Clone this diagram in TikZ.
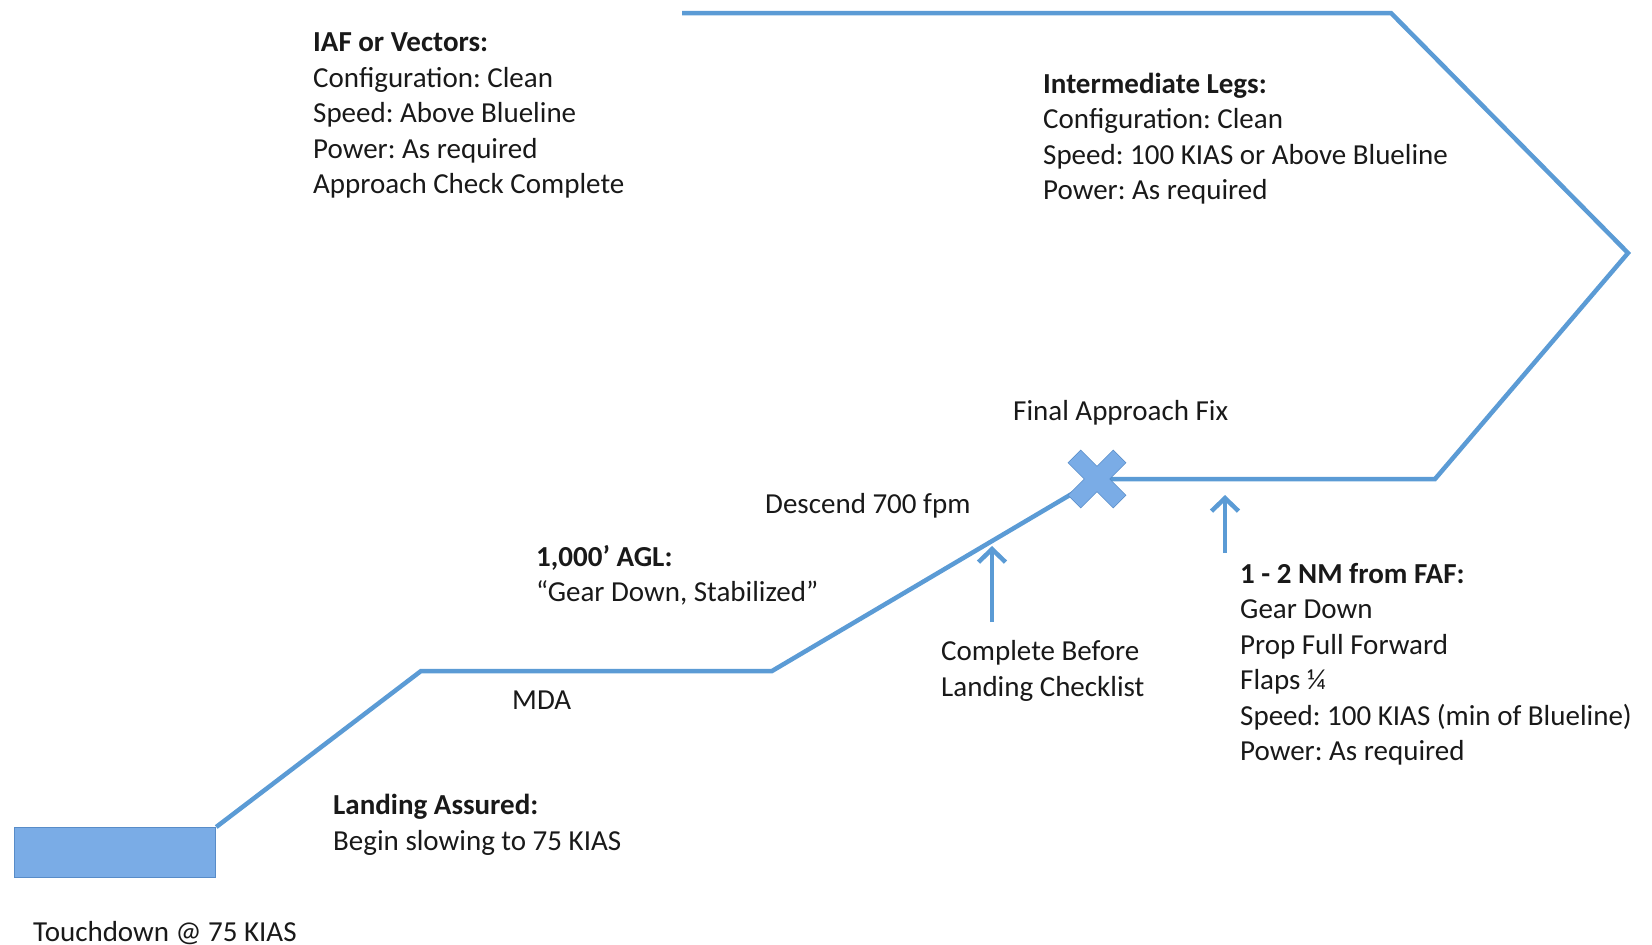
\documentclass[tikz,border=0pt]{standalone}
\usepackage{fontspec}
\setmainfont{Carlito}
\usetikzlibrary{arrows.meta}
\definecolor{route}{RGB}{91,155,213}
\definecolor{padfill}{RGB}{122,172,230}
\definecolor{padedge}{RGB}{88,140,200}
\definecolor{ink}{RGB}{25,25,25}
\frenchspacing
\begin{document}
\begin{tikzpicture}[x=1pt,y=-1pt,
  route/.style={draw=route, line width=4.5pt, line join=miter},
  % multi-line notes are placed by the baseline of their last line
  note/.style={anchor=base west, inner sep=0pt, align=left,
    font=\fontsize{29}{35.5}\selectfont, text=ink},
  callout/.style={draw=route, line width=4.5pt,
    -{Straight Barb[length=13pt,width=27pt]}},
  xarm/.style={rectangle, minimum width=63pt, minimum height=17pt,
    inner sep=0pt, fill=padfill}]
\useasboundingbox (0,0) rectangle (1652,945);

% runway
\node[draw=padedge, fill=padfill, line width=1.2pt, anchor=north west,
  minimum width=201pt, minimum height=50pt, inner sep=0pt] (rwy) at (14,827) {};

% approach track corners
\coordinate (start) at (682,13);
\coordinate (turnA) at (1391,13);
\coordinate (turnB) at (1628,253);
\coordinate (turnC) at (1435,479);
\coordinate (faf)   at (1097,479);
\coordinate (mdaR)  at (772,671);
\coordinate (mdaL)  at (421,671);

\draw[route] (start) -- (turnA) -- (turnB) -- (turnC) -- (faf)
  -- (mdaR) -- (mdaL) -- (rwy.north east);

% final approach fix marker
\node[xarm, draw=padedge, line width=1.5pt, rotate=45] at (faf) {};
\node[xarm, draw=padedge, line width=1.5pt, rotate=-45] at (faf) {};
\node[xarm, rotate=45] (fafA) at (faf) {};
\node[xarm, rotate=-45] (fafB) at (faf) {};

% callout arrows
\coordinate (cbTail) at (992,622);
\coordinate (cbTip)  at (992,546);
\coordinate (nmTail) at (1225,553);
\coordinate (nmTip)  at (1225,495);
\draw[callout] (cbTail) -- (cbTip);
\draw[callout] (nmTail) -- (nmTip);

% annotations
\node[note] (iaf) at (313,193.5) {\textbf{IAF or Vectors:}\\Configuration: Clean\\Speed: Above Blueline\\Power: As required\\Approach Check Complete};
\node[note] (inter) at (1043,199.5) {\textbf{Intermediate Legs:}\\Configuration: Clean\\Speed: 100 KIAS or Above Blueline\\Power: As required};
\node[note] (faflabel) at (1013,420) {Final Approach Fix};
\node[note] (descend) at (765,513) {Descend 700 fpm};
\node[note] (agl) at (536,601.5) {\textbf{1,000’ AGL:}\\“Gear Down, Stabilized”};
\node[note] (mda) at (512,709) {MDA};
\node[note] (cbl) at (941,696) {Complete Before\\Landing Checklist};
\node[note] (nm) at (1240,760.5) {\textbf{1 - 2 NM from FAF:}\\Gear Down\\Prop Full Forward\\Flaps ¼\\Speed: 100 KIAS (min of Blueline)\\Power: As required};
\node[note] (assured) at (333,850) {\textbf{Landing Assured:}\\Begin slowing to 75 KIAS};
\node[note] (touch) at (33,941) {Touchdown @ 75 KIAS};
\end{tikzpicture}
\end{document}
